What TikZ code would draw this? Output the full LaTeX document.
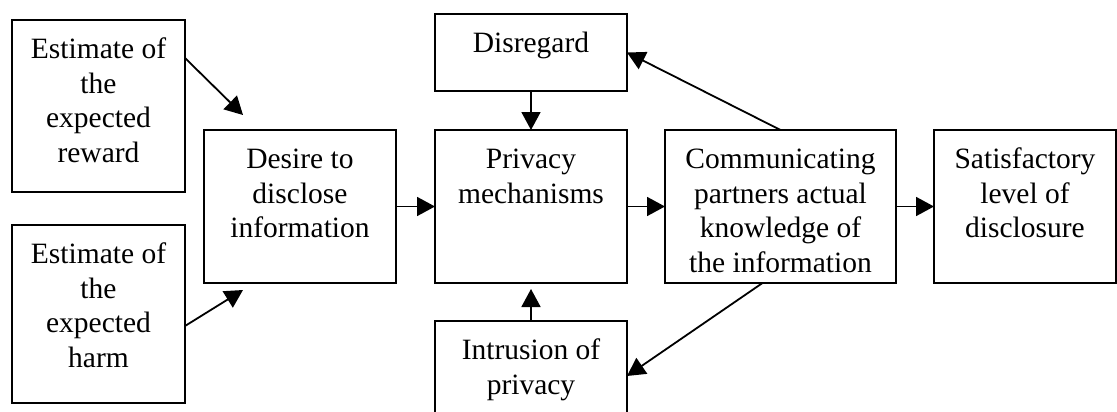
\documentclass[tikz,border=0pt]{standalone}
\usepackage{fontspec}
\setmainfont{Liberation Serif}
\usetikzlibrary{arrows.meta,calc}
\tikzset{
  bx/.style={draw, line width=1.8pt, inner sep=0pt, outer sep=0pt},
  arr/.style={line width=1.8pt, -{Triangle[length=18pt,width=19pt]}},
}
\newcommand{\bxt}[3]{\parbox[c][#2][t]{#1}{\fontsize{29.5}{34.7}\selectfont\centering\rule{0pt}{38.5pt}#3}}
\begin{document}
\begin{tikzpicture}[x=1pt,y=-1pt]
\useasboundingbox (0,0) rectangle (1117,412);
\clip (0,0) rectangle (1117,412);
\node[bx] (rew) at (98.5,106) {\bxt{173pt}{172pt}{Estimate of\\the\\expected\\reward}};
\node[bx] (harm) at (98.5,314) {\bxt{173pt}{178pt}{Estimate of\\the\\expected\\harm}};
\node[bx] (des) at (300,206.5) {\bxt{192pt}{153pt}{Desire to\\disclose\\information}};
\node[bx] (dis) at (531,52.5) {\bxt{192pt}{77pt}{Disregard}};
\node[bx] (priv) at (531,206.5) {\bxt{192pt}{153pt}{Privacy\\mechanisms}};
\node[bx] (intr) at (531,376) {\bxt{192pt}{110pt}{Intrusion of\\privacy}};
\node[bx] (comm) at (780.5,206.5) {\bxt{231pt}{153pt}{Communicating\\partners actual\\knowledge of\\the information}};
\node[bx] (sat) at (1025,206.5) {\bxt{182pt}{153pt}{Satisfactory\\level of\\disclosure}};
\draw[arr] ($(rew.north east)+(0,38)$) -- ($(des.north west)+(39,-15)$);
\draw[arr] ($(harm.north east)+(0,101)$) -- ($(des.south west)+(39,7)$);
\draw[arr] (des.east) -- (priv.west);
\draw[arr] (priv.east) -- (comm.west);
\draw[arr] (comm.east) -- (sat.west);
\draw[arr] (dis.south) -- (priv.north);
\draw[arr] (intr.north) -- ($(priv.south)+(0,6)$);
\draw[arr] (comm.north) -- (dis.east);
\draw[arr] ($(comm.south)+(-18,0)$) -- (intr.east);
\end{tikzpicture}
\end{document}
